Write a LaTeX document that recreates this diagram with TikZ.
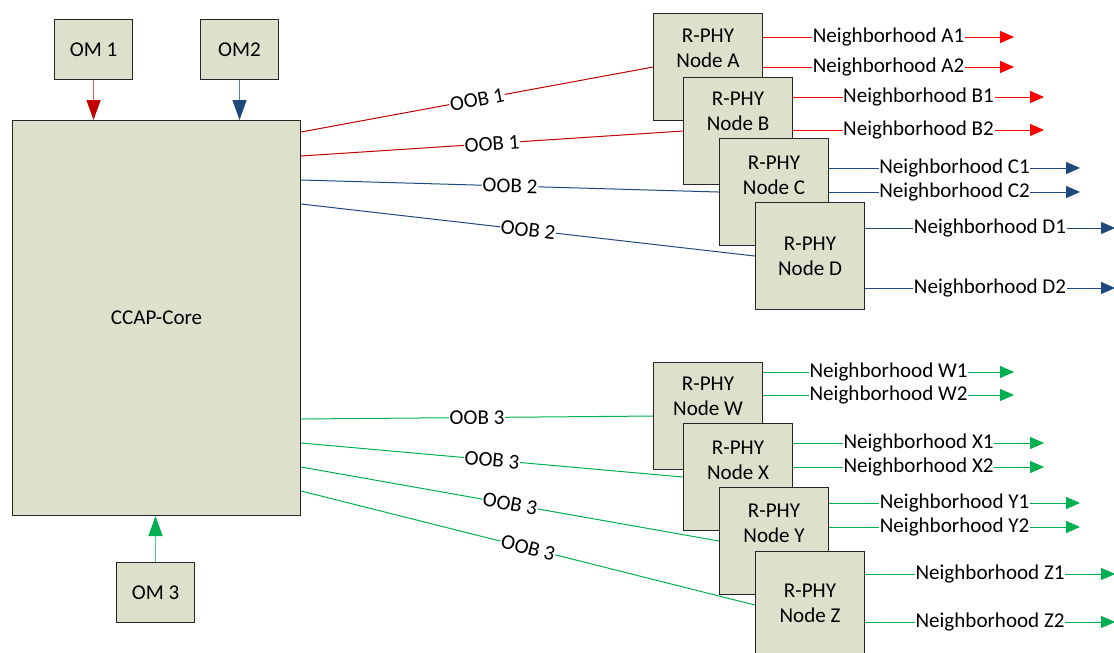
\documentclass[tikz,border=0pt]{standalone}
\usepackage{fontspec}
\setmainfont{Carlito}
\usetikzlibrary{arrows.meta,calc}
\definecolor{boxfill}{RGB}{221,225,203}
\definecolor{dred}{RGB}{192,0,0}
\definecolor{bred}{RGB}{255,0,0}
\definecolor{dblue}{RGB}{31,73,125}
\definecolor{lblue}{RGB}{90,125,180}
\definecolor{dgreen}{RGB}{0,176,80}
\definecolor{lgreen}{RGB}{80,205,135}
\definecolor{lred}{RGB}{235,80,80}
\begin{document}
\begin{tikzpicture}[x=0.75pt,y=-0.75pt,
  font=\fontsize{15.8}{18.75}\selectfont,
  box/.style={draw=black!85,line width=0.8pt,fill=boxfill,inner sep=0pt,anchor=north west},
  ombox/.style={box,minimum width=58.5pt,minimum height=45pt},
  rphy/.style={box,minimum width=81.75pt,minimum height=80.25pt},
  rlab/.style={align=center,inner sep=0pt},
  nlab/.style={fill=white,inner xsep=0.5pt,inner ysep=1pt,text=black},
  ooblab/.style={fill=white,inner sep=0.5pt,sloped,text=black},
  narrow/.style={line width=0.75pt,-{Triangle[length=10.5pt,width=9pt]}},
  oobline/.style={line width=0.75pt}
]
\useasboundingbox (0,0) rectangle (1114,653);
\clip (0,0) rectangle (1114,653);

% left side
\node[ombox] (om1) at (54,19) {OM 1};
\node[ombox] (om2) at (200,19) {OM2};
\node[box,minimum width=216pt,minimum height=296.25pt] (ccap) at (12,120) {CCAP-Core};
\node[ombox] (om3) at (116,562) {OM 3};

\draw[line width=1pt,draw=lred,-{Triangle[length=15pt,width=10.5pt,color=dred]}] (om1.south) -- (om1.south |- ccap.north);
\draw[line width=1pt,draw=lblue,-{Triangle[length=15pt,width=10.5pt,color=dblue]}] (om2.south) -- (om2.south |- ccap.north);
\draw[line width=1pt,draw=lgreen,-{Triangle[length=15pt,width=10.5pt,color=dgreen]}] (om3.north) -- (om3.north |- ccap.south);

% R-PHY nodes
\node[rphy] (rA) at (653,13) {};
\node[rphy] (rB) at (683,77) {};
\node[rphy] (rC) at (719,138) {};
\node[rphy] (rD) at (755,202) {};
\node[rphy] (rW) at (653,362) {};
\node[rphy] (rX) at (683,423) {};
\node[rphy] (rY) at (719,487) {};
\node[rphy] (rZ) at (755,551) {};

\node[rlab] (tA) at ($(rA.north)+(0,35)$) {R-PHY\\Node A};
\node[rlab] (tB) at ($(rB.north)+(0,34)$) {R-PHY\\Node B};
\node[rlab] (tC) at ($(rC.north)+(0,37)$) {R-PHY\\Node C};
\node[rlab] (tD) at ($(rD.north)+(0,54)$) {R-PHY\\Node D};
\node[rlab] (tW) at ($(rW.north)+(0,34.5)$) {R-PHY\\Node W};
\node[rlab] (tX) at ($(rX.north)+(0,37.5)$) {R-PHY\\Node X};
\node[rlab] (tY) at ($(rY.north)+(0,36)$) {R-PHY\\Node Y};
\node[rlab] (tZ) at ($(rZ.north)+(0,52.5)$) {R-PHY\\Node Z};

% OOB connectors
\draw[oobline,dred] ($(ccap.north east)+(0,12)$) -- node[ooblab]{OOB 1} (rA.west);
\draw[oobline,dred] ($(ccap.north east)+(0,36)$) -- node[ooblab]{OOB 1} (rB.west);
\draw[oobline,dblue] ($(ccap.north east)+(0,60)$) -- node[ooblab]{OOB 2} (rC.west);
\draw[oobline,dblue] ($(ccap.north east)+(0,84)$) -- node[ooblab]{OOB 2} (rD.west);
\draw[oobline,dgreen] ($(ccap.north east)+(0,299)$) -- node[ooblab]{OOB 3} (rW.west);
\draw[oobline,dgreen] ($(ccap.north east)+(0,323)$) -- node[ooblab]{OOB 3} (rX.west);
\draw[oobline,dgreen] ($(ccap.north east)+(0,347)$) -- node[ooblab]{OOB 3} (rY.west);
\draw[oobline,dgreen] ($(ccap.north east)+(0,371)$) -- node[ooblab]{OOB 3} (rZ.west);

% Neighborhood outputs
\draw[narrow,bred] ($(rA.north east)+(0,24)$) -- node[nlab]{Neighborhood A1} ++(251,0);
\draw[narrow,bred] ($(rA.north east)+(0,54)$) -- node[nlab]{Neighborhood A2} ++(251,0);
\draw[narrow,bred] ($(rB.north east)+(0,20)$) -- node[nlab]{Neighborhood B1} ++(251,0);
\draw[narrow,bred] ($(rB.north east)+(0,53)$) -- node[nlab]{Neighborhood B2} ++(251,0);
\draw[narrow,dblue] ($(rC.north east)+(0,30)$) -- node[nlab]{Neighborhood C1} ++(251,0);
\draw[narrow,dblue] ($(rC.north east)+(0,54)$) -- node[nlab]{Neighborhood C2} ++(251,0);
\draw[narrow,dblue] ($(rD.north east)+(0,26)$) -- node[nlab]{Neighborhood D1} ++(250,0);
\draw[narrow,dblue] ($(rD.north east)+(0,86)$) -- node[nlab]{Neighborhood D2} ++(250,0);
\draw[narrow,dgreen] ($(rW.north east)+(0,10)$) -- node[nlab]{Neighborhood W1} ++(251,0);
\draw[narrow,dgreen] ($(rW.north east)+(0,33)$) -- node[nlab]{Neighborhood W2} ++(251,0);
\draw[narrow,dgreen] ($(rX.north east)+(0,20)$) -- node[nlab]{Neighborhood X1} ++(251,0);
\draw[narrow,dgreen] ($(rX.north east)+(0,44)$) -- node[nlab]{Neighborhood X2} ++(251,0);
\draw[narrow,dgreen] ($(rY.north east)+(0,16)$) -- node[nlab]{Neighborhood Y1} ++(251,0);
\draw[narrow,dgreen] ($(rY.north east)+(0,40)$) -- node[nlab]{Neighborhood Y2} ++(251,0);
\draw[narrow,dgreen] ($(rZ.north east)+(0,23)$) -- node[nlab]{Neighborhood Z1} ++(250,0);
\draw[narrow,dgreen] ($(rZ.north east)+(0,71)$) -- node[nlab]{Neighborhood Z2} ++(250,0);
\end{tikzpicture}
\end{document}
